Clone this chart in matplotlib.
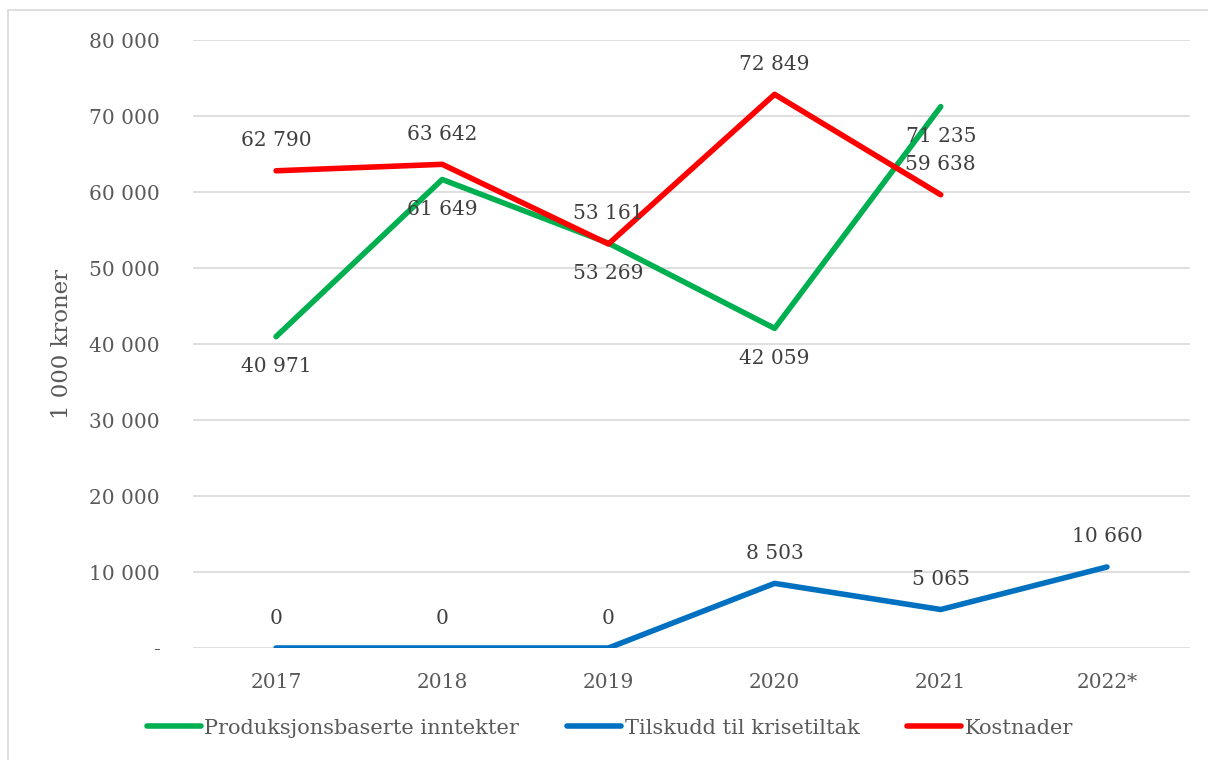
import matplotlib
matplotlib.use("Agg")
import matplotlib.pyplot as plt
from matplotlib.patches import Rectangle
from matplotlib.lines import Line2D

years = ["2017", "2018", "2019", "2020", "2021", "2022*"]
produksjon = [40971, 61649, 53269, 42059, 71235]
tilskudd = [0, 0, 0, 8503, 5065, 10660]
kostnader = [62790, 63642, 53161, 72849, 59638]
yticks = [0, 10000, 20000, 30000, 40000, 50000, 60000, 70000, 80000]

FONT = "DejaVu Serif"
plt.rcParams["font.family"] = [FONT]

def fmt(v):
    return f"{v:,}".replace(",", " ")

fig = plt.figure(figsize=(12.08, 7.6), dpi=100)
fig.patches.append(Rectangle((8/1208, -0.01), 1.0, 1 - 10/760 + 0.01, transform=fig.transFigure,
                             fill=False, edgecolor="#d9d9d9", linewidth=1.2))
ax = fig.add_axes([193/1208, 1 - 648/760, (1190-193)/1208, (648-40)/760])

series = [
    ("Produksjonsbaserte inntekter", produksjon, "#00B050", -1),
    ("Tilskudd til krisetiltak", tilskudd, "#0070C0", 1),
    ("Kostnader", kostnader, "#FF0000", 1),
]
x_all = list(range(len(years)))
for name, vals, col, side in series:
    xs = x_all[:len(vals)]
    ax.plot(xs, vals, color=col, lw=4.0, solid_capstyle="round", solid_joinstyle="round",
            label=name, zorder=3)
    for x, v in zip(xs, vals):
        ax.annotate(fmt(v), (x, v), xytext=(0, 30 * side), textcoords="offset pixels",
                    ha="center", va="center", fontsize=14.5, color="#404040", zorder=4)

ax.set_xlim(-0.5, len(years) - 0.5)
ax.set_ylim(0, 80000)
ax.set_yticks(yticks)
ax.set_yticklabels(["-"] + [fmt(t) for t in yticks[1:]])
ax.set_xticks(x_all)
ax.set_xticklabels(years)
ax.grid(axis="y", color="#d9d9d9", lw=1.2, zorder=0)
ax.set_axisbelow(True)
for s in ax.spines.values():
    s.set_visible(False)
ax.tick_params(axis="both", length=0, labelsize=14.5, colors="#595959")
ax.tick_params(axis="y", pad=24)
ax.tick_params(axis="x", pad=18)
ax.set_ylabel("1 000 kroner", fontsize=16.5, color="#595959")
ax.yaxis.set_label_coords(-0.12, 0.5)

handles = [Line2D([0], [0], color=c, lw=4.0, solid_capstyle="round") for _, _, c, _ in series]
fig.legend(handles, [n for n, _, _, _ in series], loc="center", bbox_to_anchor=(0.505, 1 - 728/760),
           ncol=3, frameon=False, fontsize=15, handlelength=2.6, handletextpad=0.15,
           columnspacing=2.3, labelcolor="#595959")

fig.savefig("out.png", dpi=100, facecolor="white")
